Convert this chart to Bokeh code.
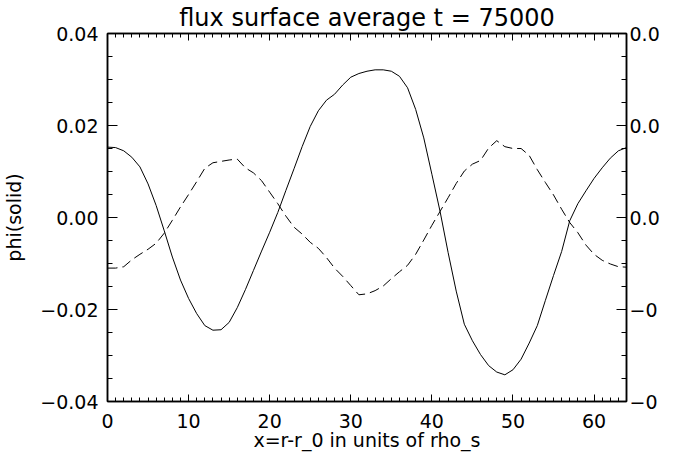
from bokeh.plotting import figure
from bokeh.models import Range1d, LinearAxis, SingleIntervalTicker, CustomJSTickFormatter, ColumnDataSource
from bokeh.embed import file_html
from bokeh.resources import INLINE

# ---- data ----
x_pos = list(range(0, 65))

phi_solid = [
    0.0153, 0.0152, 0.0145, 0.0131, 0.0110, 0.0073, 0.0026, -0.0029, -0.0086, -0.0136,
    -0.0176, -0.0209, -0.0235, -0.0245, -0.0244, -0.0228, -0.0196, -0.0157, -0.0115, -0.0073,
    -0.0032, 0.0011, 0.0059, 0.0106, 0.0154, 0.0198, 0.0232, 0.0255, 0.0268, 0.0288,
    0.0305, 0.0313, 0.0318, 0.0321, 0.0321, 0.0318, 0.0307, 0.0282, 0.0235, 0.0173,
    0.0094, 0.0014, -0.0076, -0.0160, -0.0232, -0.0268, -0.0298, -0.0322, -0.0336, -0.0342,
    -0.0331, -0.0308, -0.0273, -0.0235, -0.0180, -0.0126, -0.0074, -0.0007, 0.0030, 0.0058,
    0.0085, 0.0108, 0.0129, 0.0145, 0.0152,
]

second_dashed = [
    -0.0110, -0.0110, -0.0107, -0.0092, -0.0080, -0.0069, -0.0056, -0.0034, -0.0006, 0.0023,
    0.0050, 0.0078, 0.0107, 0.0119, 0.0122, 0.0125, 0.0127, 0.0108, 0.0097, 0.0080,
    0.0055, 0.0030, 0.0003, -0.0021, -0.0036, -0.0054, -0.0067, -0.0087, -0.0110, -0.0128,
    -0.0148, -0.0168, -0.0166, -0.0159, -0.0149, -0.0133, -0.0118, -0.0104, -0.0080, -0.0049,
    -0.0017, 0.0013, 0.0043, 0.0074, 0.0101, 0.0116, 0.0124, 0.0151, 0.0167, 0.0154,
    0.0150, 0.0150, 0.0135, 0.0104, 0.0076, 0.0049, 0.0018, -0.0011, -0.0033, -0.0060,
    -0.0080, -0.0093, -0.0101, -0.0107, -0.0108,
]

title_text = "flux surface average t = 75000"
x_label = "x=r-r_0 in units of rho_s"
y_label = "phi(solid)"

FONT = "DejaVu Sans"

src = ColumnDataSource(dict(x=x_pos, phi=phi_solid, other=second_dashed))

p = figure(width=662, height=457, x_range=Range1d(0, 64), y_range=Range1d(-0.04, 0.04),
           output_backend="svg", toolbar_location=None,
           min_border_left=101, min_border_right=31, min_border_bottom=56, min_border_top=10)
p.extra_y_ranges = {"right": Range1d(-0.04, 0.04)}

bottom_axis = p.below[0]
left_axis = p.left[0]

p.line("x", "phi", source=src, line_color="black", line_width=1)
p.line("x", "other", source=src, line_color="black", line_width=1, line_dash="10 5")

p.title.text = title_text
p.title.align = "center"
p.title.text_font = FONT
p.title.text_font_size = "24px"
p.title.text_font_style = "normal"
p.title.text_color = "black"
p.title.standoff = 3

p.xgrid.grid_line_color = None
p.ygrid.grid_line_color = None
p.outline_line_color = "black"
p.outline_line_width = 1.5
p.background_fill_color = "white"
p.border_fill_color = "white"

xt = SingleIntervalTicker(interval=10, num_minor_ticks=10)
yt = SingleIntervalTicker(interval=0.02, num_minor_ticks=4)

left_fmt = CustomJSTickFormatter(code="return (tick < -1e-9 ? '\\u2212' : '') + Math.abs(tick).toFixed(2);")
right_fmt = CustomJSTickFormatter(code="return tick < -1e-9 ? '\\u22120' : '0.0';")
empty_fmt = CustomJSTickFormatter(code="return '';")

top_axis = LinearAxis(ticker=xt, formatter=empty_fmt, axis_label=None)
right_axis = LinearAxis(ticker=yt, formatter=right_fmt, y_range_name="right", axis_label=None)
p.add_layout(top_axis, "above")
p.add_layout(right_axis, "right")

bottom_axis.ticker = xt
left_axis.ticker = yt
left_axis.formatter = left_fmt
bottom_axis.axis_label = x_label
left_axis.axis_label = y_label

for ax in (bottom_axis, top_axis):
    ax.major_tick_in = 7
    ax.major_tick_out = 0
    ax.minor_tick_in = 4
    ax.minor_tick_out = 0
for ax in (left_axis, right_axis):
    ax.major_tick_in = 10
    ax.major_tick_out = 0
    ax.minor_tick_in = 5
    ax.minor_tick_out = 0

for ax in (bottom_axis, top_axis, left_axis, right_axis):
    ax.axis_line_color = "black"
    ax.axis_line_width = 1.5
    ax.major_tick_line_color = "black"
    ax.minor_tick_line_color = "black"
    ax.major_tick_line_width = 1
    ax.minor_tick_line_width = 1
    ax.major_label_text_font = FONT
    ax.major_label_text_font_size = "19px"
    ax.major_label_text_color = "black"
    ax.axis_label_text_font = FONT
    ax.axis_label_text_font_size = "19px"
    ax.axis_label_text_font_style = "normal"
    ax.axis_label_text_color = "black"

for ax in (top_axis, right_axis):
    ax.axis_label_standoff = 0
    ax.axis_label_text_font_size = "0px"

bottom_axis.major_label_standoff = 12
bottom_axis.axis_label_standoff = -2
left_axis.major_label_standoff = 9
left_axis.axis_label_standoff = 12
right_axis.major_label_standoff = 3
top_axis.major_label_standoff = 0
top_axis.major_label_text_font_size = "0px"

open("out.html", "w").write(file_html(p, INLINE))
